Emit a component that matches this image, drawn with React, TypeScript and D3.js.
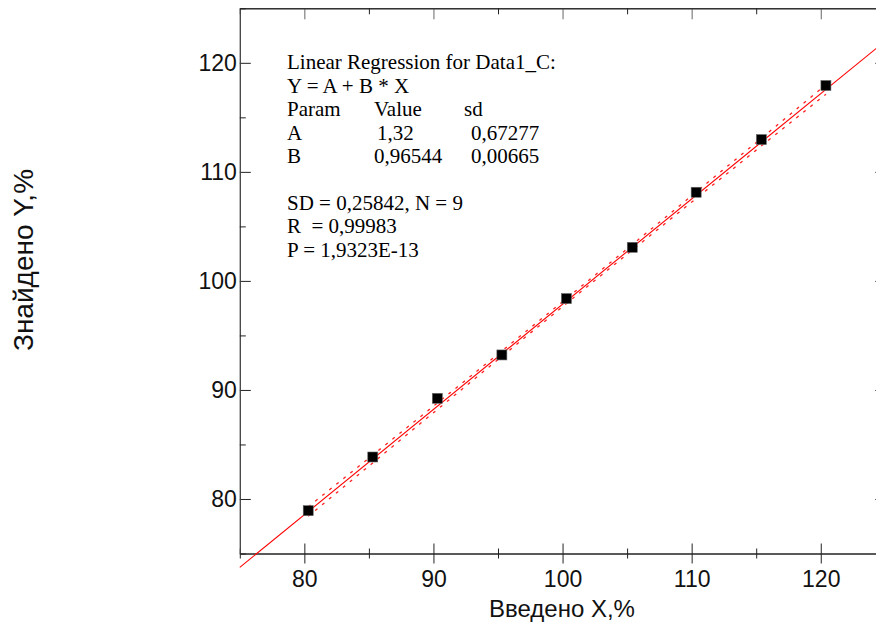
import React, { useEffect, useRef } from "react";
import * as d3 from "d3";

// measured points (Введено X vs Знайдено Y)
const xValues = [80.3, 85.3, 90.3, 95.3, 100.3, 105.4, 110.35, 115.4, 120.4];
const yValues = [78.93, 83.85, 89.23, 93.21, 98.38, 103.08, 108.13, 112.96, 117.92];

// regression results shown in the text box
const fitA = 1.32;
const fitB = 0.96544;
const fitSD = 0.25842;
const fitN = 9;
const tCrit = 2.365; // t(0.975, N-2)

const majorTicks = [80, 90, 100, 110, 120];
const minorTicks = [75, 85, 95, 105, 115, 125];

const infoLines = [
  ["Linear Regression for Data1_C:"],
  ["Y = A + B * X"],
  ["Param", "Value", "sd"],
  ["A", "1,32", "0,67277"],
  ["B", "0,96544", "0,00665"],
  [""],
  ["SD = 0,25842, N = 9"],
  ["R  = 0,99983"],
  ["P = 1,9323E-13"],
];

const width = 876;
const height = 628;

export default function App() {
  const ref = useRef<SVGSVGElement>(null);

  useEffect(() => {
    const svg = d3.select(ref.current);
    svg.selectAll("*").remove();

    const x = d3.scaleLinear().domain([75, 125]).range([239.8, 885.3]);
    const y = d3.scaleLinear().domain([75, 125]).range([553.5, 8.3]);
    const axisColor = "#222";
    const font = "'Liberation Sans', Arial, sans-serif";

    const styleAxis = (g: any) => {
      g.select(".domain").attr("stroke", axisColor);
      g.selectAll(".tick line").attr("stroke", axisColor);
      g.selectAll(".tick text")
        .attr("font-family", font)
        .attr("font-size", 23)
        .attr("fill", "#111");
    };

    // bottom axis: ticks on both sides
    svg.append("g")
      .attr("transform", `translate(0,${y(75)})`)
      .call(d3.axisBottom(x).tickValues(majorTicks).tickSize(10).tickSizeOuter(0).tickPadding(7).tickFormat(d3.format("d")))
      .call(styleAxis)
      .call((g) => g.selectAll(".tick line").attr("y1", -10));
    svg.append("g")
      .attr("transform", `translate(0,${y(75)})`)
      .call(d3.axisBottom(x).tickValues(minorTicks).tickSize(5).tickSizeOuter(0).tickFormat(() => ""))
      .call(styleAxis)
      .call((g) => g.selectAll(".tick line").attr("y1", -5));

    // top axis: inward ticks
    svg.append("g")
      .attr("transform", `translate(0,${y(125)})`)
      .call(d3.axisTop(x).tickValues(majorTicks).tickSize(-11).tickSizeOuter(0).tickFormat(() => ""))
      .call(styleAxis)
      .call((g) => g.selectAll(".tick line").attr("stroke", "#666"));
    svg.append("g")
      .attr("transform", `translate(0,${y(125)})`)
      .call(d3.axisTop(x).tickValues(minorTicks).tickSize(-6).tickSizeOuter(0).tickFormat(() => ""))
      .call(styleAxis);

    // left axis: inward ticks
    svg.append("g")
      .attr("transform", `translate(${x(75)},0)`)
      .call(d3.axisLeft(y).tickValues(majorTicks).tickSize(-11).tickSizeOuter(0).tickPadding(3).tickFormat(d3.format("d")))
      .call(styleAxis)
      .call((g) => g.select(".domain").attr("stroke", "#444"));
    svg.append("g")
      .attr("transform", `translate(${x(75)},0)`)
      .call(d3.axisLeft(y).tickValues(minorTicks).tickSize(-6).tickSizeOuter(0).tickFormat(() => ""))
      .call(styleAxis)
      .call((g) => g.select(".domain").attr("stroke", "#444"));

    // right axis (mostly outside the picture)
    svg.append("g")
      .attr("transform", `translate(${x(125)},0)`)
      .call(d3.axisRight(y).tickValues(majorTicks).tickSize(-10).tickSizeOuter(0).tickFormat(() => ""))
      .call(styleAxis);

    // fit line across the whole x range
    const fit = (v: number) => fitA + fitB * v;
    svg.append("path")
      .datum([75, 125])
      .attr("fill", "none")
      .attr("stroke", "#ff0000")
      .attr("stroke-width", 1.1)
      .attr("d", d3.line<number>().x((d) => x(d)).y((d) => y(fit(d))));

    // 95% confidence bands over the data range
    const meanX = d3.mean(xValues) as number;
    const sxx = d3.sum(xValues, (v) => (v - meanX) ** 2);
    const half = (v: number) => tCrit * fitSD * Math.sqrt(1 / fitN + (v - meanX) ** 2 / sxx);
    const xs = d3.range(0, 41).map((i) => xValues[0] + (i / 40) * (xValues[fitN - 1] - xValues[0]));
    [-1, 1].forEach((s) => {
      svg.append("path")
        .datum(xs)
        .attr("fill", "none")
        .attr("stroke", "#ff2020")
        .attr("stroke-width", 1.3)
        .attr("stroke-dasharray", "3,6")
        .attr("d", d3.line<number>().x((d) => x(d)).y((d) => y(fit(d) + s * half(d) * 1.15)));
    });

    // markers
    const sz = 10;
    svg.append("g")
      .selectAll("rect")
      .data(xValues.map((v, i) => [v, yValues[i]]))
      .enter()
      .append("rect")
      .attr("x", (d) => x(d[0]) - sz / 2)
      .attr("y", (d) => y(d[1]) - sz / 2)
      .attr("width", sz)
      .attr("height", sz)
      .attr("fill", "#000")
      .attr("stroke", "#666")
      .attr("stroke-width", 0.6);

    // info text box
    const cols = [287, 374, 464];
    const info = svg.append("g")
      .attr("font-family", "'Liberation Serif', 'Times New Roman', serif")
      .attr("font-size", 21)
      .attr("fill", "#000");
    infoLines.forEach((row, i) => {
      row.forEach((t, j) => {
        let cx = cols[j];
        if (i === 3 && j === 1) cx = 377;
        if ((i === 3 || i === 4) && j === 2) cx = 471;
        info.append("text")
          .attr("x", cx)
          .attr("y", 69.3 + i * 23.45)
          .attr("xml:space", "preserve")
          .style("white-space", "pre")
          .text(t);
      });
    });

    // axis titles
    svg.append("text")
      .attr("x", 562)
      .attr("y", 617)
      .attr("text-anchor", "middle")
      .attr("font-family", font)
      .attr("font-size", 24)
      .attr("fill", "#111")
      .text("Введено X,%");
    svg.append("text")
      .attr("transform", `translate(33,${260}) rotate(-90)`)
      .attr("text-anchor", "middle")
      .attr("font-family", font)
      .attr("font-size", 28)
      .attr("fill", "#111")
      .text("Знайдено Y,%");
  }, []);

  return (
    <svg
      ref={ref}
      width={width}
      height={height}
      style={{ position: "absolute", left: 0, top: 0, background: "#fff" }}
    />
  );
}
